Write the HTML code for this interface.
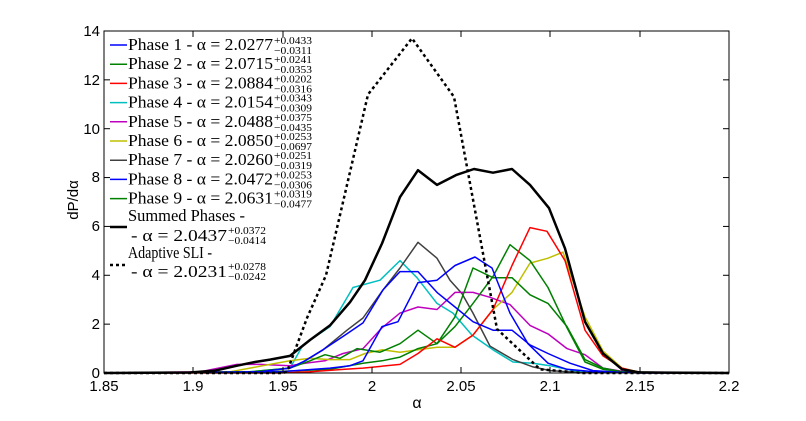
<!DOCTYPE html>
<html><head><meta charset="utf-8"><style>
body{margin:0;background:#fff;}
svg{display:block;}
.t{font-family:"Liberation Sans",sans-serif;font-size:15px;fill:#000;}
.l{font-family:"Liberation Serif",serif;font-size:17px;fill:#000;}
.s{font-family:"Liberation Serif",serif;font-size:11px;fill:#000;}
</style></head><body>
<svg width="806" height="421" viewBox="0 0 806 421" xmlns="http://www.w3.org/2000/svg">
<rect width="806" height="421" fill="#fff"/>
<g id="plot" fill="none" stroke-linejoin="round"></g>
<rect x="104" y="31" width="625" height="342" fill="none" stroke="#000" stroke-width="1"/>
<g stroke="#000" stroke-width="1" id="ticks"></g>
<g class="t" text-anchor="middle">
<text x="104" y="391">1.85</text><text x="193" y="391">1.9</text><text x="283" y="391">1.95</text>
<text x="372" y="391">2</text><text x="461" y="391">2.05</text><text x="550" y="391">2.1</text>
<text x="640" y="391">2.15</text><text x="729" y="391">2.2</text>
<text x="417" y="408" style="font-size:16px">α</text>
</g>
<g class="t" text-anchor="end">
<text x="100" y="378">0</text><text x="100" y="329">2</text><text x="100" y="280">4</text>
<text x="100" y="231">6</text><text x="100" y="182">8</text><text x="100" y="134">10</text>
<text x="100" y="85">12</text><text x="100" y="36">14</text>
</g>
<text class="t" transform="translate(78,200) rotate(-90)" text-anchor="middle">dP/dα</text>
<g id="leg"></g>
</svg>
<script>
const NS="http://www.w3.org/2000/svg";
function el(p,n,a,txt){const e=document.createElementNS(NS,n);for(const k in a)e.setAttribute(k,a[k]);if(txt!==undefined)e.textContent=txt;p.appendChild(e);return e;}
const Y=v=>373-v*24.43;
const plot=document.getElementById('plot');
const S={
cyan:["#00bfbf",[[104,0],[200,0.02],[250,0.05],[290,0.2],[303,1.15],[330,1.9],[353,3.5],[380,3.8],[400,4.6],[417,3.9],[437,2.85],[453,2.45],[472,1.55],[493,0.95],[513,0.45],[533,0.4],[550,0.3],[573,0.1],[600,0.02],[729,0]]],
gray:["#404040",[[104,0],[250,0.03],[290,0.2],[303,0.45],[323,0.95],[347,1.75],[363,2.25],[383,3.4],[400,4.3],[418,5.35],[437,4.7],[450,3.8],[462,3.25],[473,2.45],[490,1.1],[513,0.55],[533,0.25],[550,0.1],[580,0.02],[729,0]]],
mag:["#bf00bf",[[104,0],[200,0.05],[237,0.35],[260,0.35],[290,0.3],[305,0.4],[325,0.5],[343,0.8],[363,1.0],[382,1.85],[400,2.45],[418,2.7],[437,2.6],[455,3.3],[473,3.3],[490,3.1],[510,2.8],[530,1.95],[548,1.6],[567,1.0],[585,0.75],[603,0.2],[625,0.05],[729,0]]],
yel:["#bfbf00",[[104,0],[230,0.05],[270,0.35],[290,0.5],[310,0.6],[330,0.55],[350,0.55],[365,0.8],[382,0.95],[400,0.85],[418,0.95],[437,1.05],[455,1.05],[473,1.55],[493,2.6],[512,3.3],[530,4.5],[548,4.7],[563,4.95],[585,2.3],[603,0.9],[622,0.2],[640,0.03],[729,0]]],
g9:["#008000",[[104,0],[250,0.05],[290,0.2],[310,0.5],[325,0.75],[340,0.6],[357,1.0],[372,0.9],[380,0.85],[400,1.2],[418,1.75],[437,1.2],[455,2.3],[473,4.3],[493,3.9],[512,3.9],[530,3.2],[548,2.85],[567,1.9],[585,0.55],[603,0.2],[622,0.05],[729,0]]],
g2:["#008000",[[104,0],[270,0.05],[300,0.1],[330,0.15],[363,0.4],[382,0.5],[400,0.65],[418,1.0],[437,1.2],[455,1.9],[473,2.85],[493,3.95],[510,5.25],[530,4.6],[548,3.5],[567,1.85],[585,0.45],[603,0.15],[622,0.05],[729,0]]],
red:["#ff0000",[[104,0],[280,0],[310,0.05],[345,0.15],[363,0.2],[400,0.35],[418,0.8],[437,1.4],[455,1.05],[473,1.55],[493,2.6],[512,4.4],[530,5.95],[547,5.8],[565,4.6],[585,1.75],[603,0.7],[622,0.2],[640,0.02],[729,0]]],
b1:["#0000ff",[[104,0],[260,0.05],[290,0.2],[305,0.5],[323,0.95],[345,1.55],[363,2.05],[383,3.4],[400,4.15],[418,4.15],[437,3.3],[455,2.7],[473,2.1],[493,1.75],[512,1.75],[530,1.15],[548,0.8],[570,0.4],[593,0.1],[620,0.03],[729,0]]],
b8:["#0000ff",[[104,0],[280,0.05],[330,0.2],[350,0.3],[363,0.5],[382,1.9],[398,2.1],[418,3.7],[437,3.8],[455,4.4],[475,4.75],[492,4.3],[510,2.45],[528,1.2],[548,0.4],[567,0.15],[600,0.03],[640,0],[729,0]]],
};
for(const k in S){const [c,p]=S[k];el(plot,'polyline',{points:p.map(q=>q[0]+','+Y(q[1]).toFixed(1)).join(' '),stroke:c,'stroke-width':1.5});}
const blk=[[104,0],[190,0.02],[215,0.1],[237,0.3],[255,0.45],[270,0.55],[290,0.7],[310,1.35],[330,1.95],[350,2.9],[365,3.8],[382,5.3],[400,7.2],[418,8.3],[437,7.7],[456,8.1],[474,8.35],[493,8.2],[512,8.35],[530,7.7],[549,6.75],[565,5.1],[585,2.1],[603,0.8],[622,0.15],[640,0.02],[729,0]];
el(plot,'polyline',{points:blk.map(q=>q[0]+','+Y(q[1]).toFixed(1)).join(' '),stroke:'#000','stroke-width':2.5});
const dot=[[104,0],[283,0],[287,0.05],[307,2.25],[326,4.0],[368,11.4],[412,13.7],[454,11.3],[497,1.8],[540,0.15],[583,0],[729,0]];
el(plot,'polyline',{points:dot.map(q=>q[0]+','+Y(q[1]).toFixed(1)).join(' '),stroke:'#000','stroke-width':2.5,'stroke-dasharray':'3,3'});
const tk=document.getElementById('ticks');
[104,193,283,372,461,550,640,729].forEach(x=>{el(tk,'line',{x1:x,y1:373,x2:x,y2:367});el(tk,'line',{x1:x,y1:31,x2:x,y2:37});});
[0,2,4,6,8,10,12,14].forEach(v=>{const y=Y(v);el(tk,'line',{x1:104,y1:y,x2:110,y2:y});el(tk,'line',{x1:729,y1:y,x2:723,y2:y});});
const leg=document.getElementById('leg');
const L=[["#0000ff","1","2.0277","0.0433","0.0311"],["#008000","2","2.0715","0.0241","0.0353"],["#ff0000","3","2.0884","0.0202","0.0316"],["#00bfbf","4","2.0154","0.0343","0.0309"],["#bf00bf","5","2.0488","0.0375","0.0435"],["#bfbf00","6","2.0850","0.0253","0.0697"],["#404040","7","2.0260","0.0251","0.0319"],["#0000ff","8","2.0472","0.0253","0.0306"],["#008000","9","2.0631","0.0319","0.0477"]];
function sup(x,y,a,b){el(leg,'text',{x:x,y:y-1,class:'s',textLength:38,lengthAdjust:'spacingAndGlyphs'},'+'+a);el(leg,'text',{x:x,y:y+9,class:'s',textLength:38,lengthAdjust:'spacingAndGlyphs'},'−'+b);}
L.forEach((r,i)=>{const y=45+i*19.2;el(leg,'line',{x1:110,y1:y,x2:127,y2:y,stroke:r[0],'stroke-width':1.5});
el(leg,'text',{x:128,y:y+5,class:'l',textLength:145,lengthAdjust:'spacingAndGlyphs'},'Phase '+r[1]+' - α = '+r[2]);
sup(274,y,r[3],r[4]);});
el(leg,'text',{x:128,y:221,class:'l',textLength:117,lengthAdjust:'spacingAndGlyphs'},'Summed Phases -');
el(leg,'line',{x1:110,y1:227,x2:127,y2:227,stroke:'#000','stroke-width':2.5});
el(leg,'text',{x:131,y:241,class:'l',textLength:96,lengthAdjust:'spacingAndGlyphs'},'- α = 2.0437');
sup(228,235,'0.0372','0.0414');
el(leg,'text',{x:128,y:258,class:'l',textLength:84,lengthAdjust:'spacingAndGlyphs'},'Adaptive SLI -');
el(leg,'line',{x1:110,y1:265,x2:127,y2:265,stroke:'#000','stroke-width':2.5,'stroke-dasharray':'3,3'});
el(leg,'text',{x:131,y:277,class:'l',textLength:96,lengthAdjust:'spacingAndGlyphs'},'- α = 2.0231');
sup(228,271,'0.0278','0.0242');
</script>
</body></html>
